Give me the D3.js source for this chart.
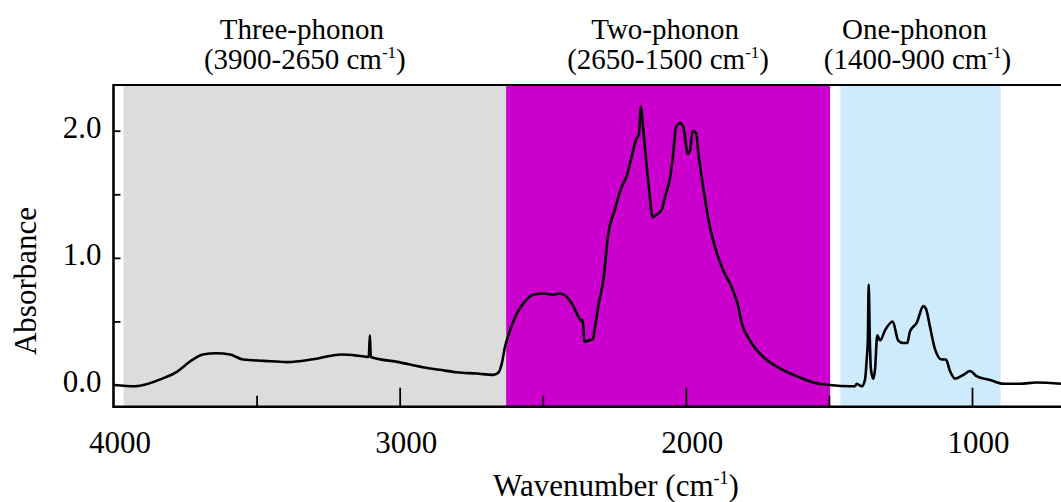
<!DOCTYPE html>
<html>
<head>
<meta charset="utf-8">
<script src="https://cdn.jsdelivr.net/npm/d3@7"></script>
<style>
  html, body { margin: 0; padding: 0; background: #fff; }
  svg { display: block; }
  text { font-family: "Liberation Serif", "Times New Roman", serif; fill: #000; }
</style>
</head>
<body>
<svg id="chart" width="1061" height="502"></svg>
<script>
// IR absorbance spectrum with multiphonon absorption bands
const wavenumber = [
  3997, 3924, 3830, 3782, 3723, 3688, 3640, 3593, 3546, 3475, 3392, 3310, 3239, 3204, 3144,
  3108, 3104, 3101, 3003, 2920, 2861, 2802, 2731, 2672, 2654, 2643, 2632, 2614, 2591, 2568,
  2533, 2498, 2463, 2440, 2411, 2393, 2376, 2364, 2360, 2355, 2341, 2325, 2317, 2306, 2288,
  2271, 2248, 2224, 2207, 2189, 2172, 2164, 2157, 2151, 2143, 2128, 2116, 2102, 2084, 2073,
  2055, 2046, 2034, 2020, 2009, 1993, 1985, 1976, 1964, 1956, 1939, 1921, 1892, 1869, 1840,
  1817, 1805, 1776, 1729, 1671, 1613, 1555, 1496, 1426, 1409, 1403, 1385, 1374, 1368, 1364,
  1361, 1357, 1353, 1345, 1339, 1331, 1321, 1304, 1277, 1258, 1240, 1226, 1217, 1193, 1170,
  1161, 1147, 1129, 1106, 1091, 1077, 1059, 1030, 1007, 984, 937, 891, 832, 774, 689
];
const absorbance = [
  0.00, -0.01, 0.05, 0.10, 0.20, 0.24, 0.25, 0.24, 0.20, 0.19, 0.18, 0.20, 0.23, 0.24, 0.23,
  0.22, 0.39, 0.22, 0.18, 0.14, 0.12, 0.10, 0.09, 0.08, 0.10, 0.17, 0.30, 0.43, 0.56, 0.64,
  0.71, 0.72, 0.71, 0.72, 0.68, 0.62, 0.54, 0.50, 0.51, 0.34, 0.35, 0.36, 0.46, 0.62, 0.83,
  1.19, 1.38, 1.56, 1.64, 1.80, 1.94, 1.97, 2.19, 2.06, 1.87, 1.53, 1.32, 1.34, 1.38, 1.48,
  1.63, 1.78, 2.03, 2.06, 2.03, 1.82, 1.85, 2.00, 1.98, 1.82, 1.55, 1.30, 1.04, 0.90, 0.77,
  0.62, 0.49, 0.35, 0.22, 0.13, 0.07, 0.02, 0.00, -0.01, -0.01, 0.01, -0.01, 0.04, 0.20, 0.35,
  0.79, 0.35, 0.12, 0.05, 0.12, 0.39, 0.35, 0.43, 0.50, 0.35, 0.33, 0.33, 0.42, 0.49, 0.62,
  0.60, 0.46, 0.28, 0.20, 0.20, 0.11, 0.05, 0.08, 0.11, 0.07, 0.04, 0.01, 0.01, 0.02, 0.01
];

// Absorption bands
const bandNames = ["Three-phonon", "Two-phonon", "One-phonon"];
const bandRangeText = ["3900-2650", "2650-1500", "1400-900"];
const bandFrom = [3965, 2628, 1460];
const bandTo = [2628, 1496, 900];

// Axis ticks
const xMajorTicks = [4000, 3000, 2000, 1000];
const xMinorTicks = [3500, 2500, 1500];
const yLabelTicks = [0, 1, 2];
const yMarkTicks = [0.5, 1.0, 1.5, 2.0];

// ---- styling / layout ----
const bandFill = ["#dcdcdc", "#cc00cc", "#cdebfd"];
const bandTitleNudge = [-13, -3, -6];
const FONT_SIZE = 31;

const svg = d3.select("#chart");
const plot = { left: 113.5, top: 85, bottom: 406.7, right: 1061 };

const x = d3.scaleLinear().domain([4000, 689]).range([plot.left, plot.right]);
const y = d3.scaleLinear().domain([0, 2]).range([385, 130.7]);

// band shading
svg.append("g").selectAll("rect")
  .data(bandNames)
  .join("rect")
  .attr("x", (d, i) => x(bandFrom[i]))
  .attr("width", (d, i) => x(bandTo[i]) - x(bandFrom[i]))
  .attr("y", plot.top)
  .attr("height", plot.bottom - plot.top)
  .attr("fill", (d, i) => bandFill[i]);

// band titles
const titles = svg.append("g").attr("font-size", 29).attr("text-anchor", "middle");
bandNames.forEach((name, i) => {
  const cx = (x(bandFrom[i]) + x(bandTo[i])) / 2 + bandTitleNudge[i];
  titles.append("text").attr("x", cx).attr("y", 38.5).text(name);
  const t = titles.append("text").attr("x", cx + 3).attr("y", 69);
  t.append("tspan").text("(" + bandRangeText[i] + " cm");
  t.append("tspan").attr("font-size", 17).attr("dy", -11).text("-1");
  t.append("tspan").attr("dy", 11).text(")");
});

// spectrum
const line = d3.line()
  .x((d, i) => x(wavenumber[i]))
  .y((d, i) => y(absorbance[i]))
  .curve(d3.curveMonotoneX);

svg.append("path")
  .datum(wavenumber)
  .attr("d", line)
  .attr("fill", "none")
  .attr("stroke", "#000")
  .attr("stroke-width", 2.6)
  .attr("stroke-linejoin", "round");

// x axis: inward ticks, labels below
const xMajor = svg.append("g")
  .attr("transform", `translate(0,${plot.bottom})`)
  .call(d3.axisBottom(x).tickValues(xMajorTicks).tickSize(-19).tickPadding(24).tickFormat(d3.format("d")));
xMajor.selectAll(".tick line").filter(d => d === 4000).remove();
const xMinor = svg.append("g")
  .attr("transform", `translate(0,${plot.bottom})`)
  .call(d3.axisBottom(x).tickValues(xMinorTicks).tickSize(-11).tickFormat(""));

// y axis: inward ticks, labels on the left
const yMarks = svg.append("g")
  .attr("transform", `translate(${plot.left},0)`)
  .call(d3.axisLeft(y).tickValues(yMarkTicks).tickSize(-7).tickFormat(""));
const yLabels = svg.append("g")
  .attr("transform", `translate(${plot.left},0)`)
  .call(d3.axisLeft(y).tickValues(yLabelTicks).tickSize(0).tickPadding(12).tickFormat(d3.format(".1f")));

[xMajor, xMinor, yMarks, yLabels].forEach(g => {
  g.select(".domain").remove();
  g.attr("font-family", null).attr("font-size", null);
  g.selectAll(".tick line").attr("stroke", "#000").attr("stroke-width", 1.8);
  g.selectAll(".tick text").attr("font-size", FONT_SIZE).attr("fill", "#000");
});
xMajor.selectAll(".tick text").attr("dx", 6);
yLabels.selectAll(".tick text").attr("dy", "0.22em");

// frame
const frame = svg.append("g").attr("stroke", "#000").attr("fill", "none");
frame.append("line").attr("x1", plot.left).attr("x2", plot.right + 2)
  .attr("y1", plot.top).attr("y2", plot.top).attr("stroke-width", 2);
frame.append("line").attr("x1", plot.left).attr("x2", plot.right + 2)
  .attr("y1", plot.bottom).attr("y2", plot.bottom).attr("stroke-width", 2.6);
frame.append("line").attr("x1", plot.left).attr("x2", plot.left)
  .attr("y1", plot.top - 1).attr("y2", plot.bottom + 1.3).attr("stroke-width", 2.6);

// axis titles
svg.append("text")
  .attr("transform", `translate(35.5,281) rotate(-90)`)
  .attr("text-anchor", "middle")
  .attr("font-size", FONT_SIZE)
  .text("Absorbance");

const xt = svg.append("text")
  .attr("x", 616).attr("y", 496)
  .attr("text-anchor", "middle")
  .attr("font-size", FONT_SIZE);
xt.append("tspan").text("Wavenumber (cm");
xt.append("tspan").attr("font-size", 18).attr("dy", -12).text("-1");
xt.append("tspan").attr("dy", 12).text(")");
</script>
</body>
</html>
